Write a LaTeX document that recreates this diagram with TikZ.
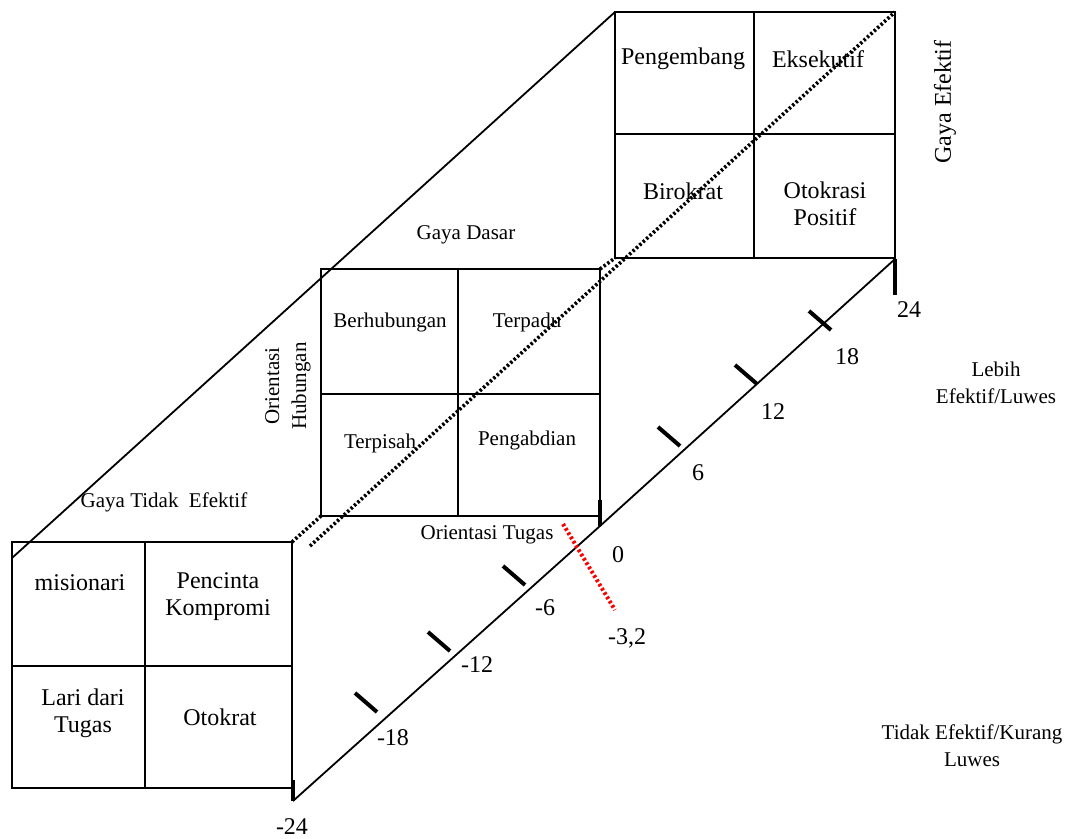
\documentclass[tikz,border=0pt]{standalone}
\usepackage{fontspec}
\setmainfont{Liberation Serif}
\usetikzlibrary{positioning}

\begin{document}
\begin{tikzpicture}[x=0.5pt, y=-0.5pt, line width=0.9pt,
	cell/.style={align=center, font=\fontsize{12}{13.5}\selectfont},
	smallcell/.style={align=center, font=\fontsize{10.5}{13.5}\selectfont},
	num/.style={font=\fontsize{12}{14}\selectfont},
	thicktick/.style={line width=2pt},
	dotline/.style={line width=1.8pt, dash pattern=on 1.2pt off 1.1pt},
	reddot/.style={red, line width=2pt, dash pattern=on 1.3pt off 1.2pt}]
\useasboundingbox (0,0) rectangle (1066,839);

% box corners
\coordinate (low-nw) at (12,542);
\coordinate (low-ne) at (292,542);
\coordinate (low-se) at (292,788);
\coordinate (low-w) at (12,558);
\coordinate (mid-nw) at (321,269);
\coordinate (mid-ne) at (600,269);
\coordinate (mid-sw) at (321,516);
\coordinate (mid-se) at (600,516);
\coordinate (top-nw) at (615,12);
\coordinate (top-ne) at (895,12);
\coordinate (top-sw) at (615,258);
\coordinate (top-se) at (895,258);

% axis points
\coordinate (ax-m24) at (293,801);
\coordinate (ax-0) at (600,526);
\coordinate (ax-24) at (895,259);
\coordinate (dot-start) at (310,546);
\coordinate (red-a) at (563,524);
\coordinate (red-b) at (615,610);

% the three boxes
\draw (low-nw) rectangle (low-se);
\draw (145,542) -- (145,788);
\draw (12,666) -- (292,666);

\draw (mid-nw) rectangle (mid-se);
\draw (458,269) -- (458,516);
\draw (321,394) -- (600,394);

\draw (top-nw) rectangle (top-se);
\draw (754,12) -- (754,258);
\draw (615,134) -- (895,134);

% outline of the prism
\draw (low-w) -- (top-nw);
\draw (ax-m24) -- (ax-0) -- (ax-24);

\draw[thicktick] (293,780) -- (ax-m24);
\draw[thicktick] (600,500) -- (ax-0);
\draw[thicktick] (ax-24) -- (895,295);

\foreach \sx/\sy in {355/693, 428/632, 503/566, 658/427, 735/365, 809/311}
	\draw[thicktick] (\sx,\sy) -- ++(22,19);

\draw[dotline] (low-ne) -- (mid-sw);
\draw[dotline] (mid-ne) -- (top-sw);
\draw[dotline] (dot-start) -- (top-ne);
\draw[reddot] (red-a) -- (red-b);

% cells
\path (683,59) node[cell] (pengembang) {Pengembang};
\path (818,59) node[cell] (eksekutif) {Eksekutif};
\path (683,191) node[cell] (birokrat) {Birokrat};
\path (825,204) node[cell] (otokrasi) {Otokrasi\\Positif};

\path (390,322) node[smallcell] (berhubungan) {Berhubungan};
\path (527,322) node[smallcell] (terpadu) {Terpadu};
\path (380,443) node[smallcell] (terpisah) {Terpisah};
\path (527,440) node[smallcell] (pengabdian) {Pengabdian};

\path (80,583) node[cell] (misionari) {misionari};
\path (218,597) node[cell] (pencinta) {Pencinta\\Kompromi};
\path (83,713) node[cell] (lari) {Lari dari\\Tugas};
\path (220,717) node[cell] (otokrat) {Otokrat};

% labels
\path (945,102) node[cell, rotate=90] (gaya-efektif) {Gaya Efektif};
\path (466,235) node[smallcell] (gaya-dasar) {Gaya Dasar};
\path (164,502) node[smallcell] (gaya-tidak) {Gaya Tidak~~Efektif};
\path (288,386) node[smallcell, rotate=90] (or-hub) {Orientasi\\Hubungan};
\path (487,535) node[smallcell] (or-tugas) {Orientasi Tugas};
\path (996,383) node[smallcell] (lebih) {Lebih\\Efektif/Luwes};
\path (972,746) node[smallcell] (kurang) {Tidak Efektif/Kurang\\Luwes};

% numbers
\path (292,827) node[num] (n-m24) {-24};
\path (393,738) node[num] (n-m18) {-18};
\path (477,665) node[num] (n-m12) {-12};
\path (545,608) node[num] (n-m6) {-6};
\path (618,555) node[num] (n-0) {0};
\path (698,473) node[num] (n-6) {6};
\path (773,412) node[num] (n-12) {12};
\path (847,357) node[num] (n-18) {18};
\path (909,310) node[num] (n-24) {24};
\path (627,638) node[num] (n-red) {-3,2};
\end{tikzpicture}
\end{document}
